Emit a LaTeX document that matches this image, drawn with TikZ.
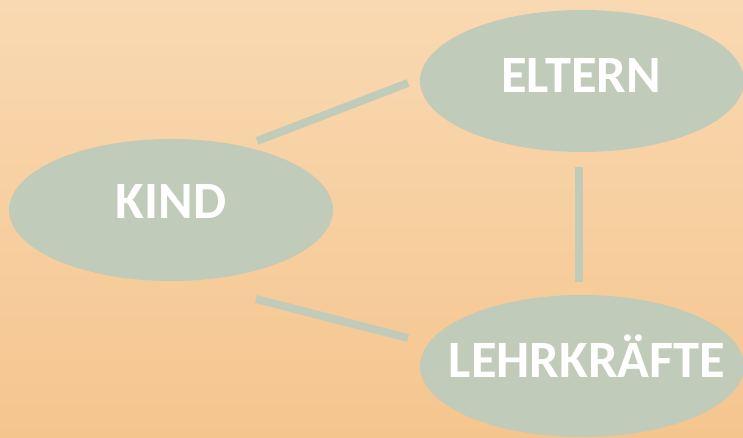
\documentclass[tikz,border=0pt]{standalone}
\usepackage{fontspec}
\setmainfont{Carlito}
\usetikzlibrary{shapes.geometric}
\definecolor{bgtop}{HTML}{F9D9B2}
\definecolor{bgbot}{HTML}{F5C58E}
\definecolor{sage}{HTML}{C1CBB9}
\tikzset{
  blob/.style={ellipse, fill=sage, draw=none, minimum width=324pt, minimum height=142pt, inner sep=0pt},
  lbl/.style={text=white, font=\fontsize{52.5}{62}\selectfont\bfseries, inner sep=0pt},
  link/.style={draw=sage, line width=8pt, line cap=butt}
}
\begin{document}
\begin{tikzpicture}[x=1pt,y=-1pt]
\useasboundingbox (0,0) rectangle (743,438);
\clip (0,0) rectangle (743,438);
\shade[top color=bgtop, bottom color=bgbot] (0,0) rectangle (743,438);
\node[blob] (kind) at (171,210) {};
\node[blob] (eltern) at (582,81) {};
\node[blob] (lehr) at (582,366) {};
\node[lbl] (kindt) at (171,201) {KIND};
\node[lbl] (elternt) at (581,75) {ELTERN};
\node[lbl] (lehrt) at (587,356) {LEHRKRÄFTE};
\coordinate (a1) at (257,141);
\coordinate (a2) at (408,83);
\coordinate (b1) at (579,167);
\coordinate (b2) at (579,282);
\coordinate (c1) at (256,299);
\coordinate (c2) at (408,338);
\draw[link] (a1) -- (a2);
\draw[link] (b1) -- (b2);
\draw[link] (c1) -- (c2);
\end{tikzpicture}
\end{document}
